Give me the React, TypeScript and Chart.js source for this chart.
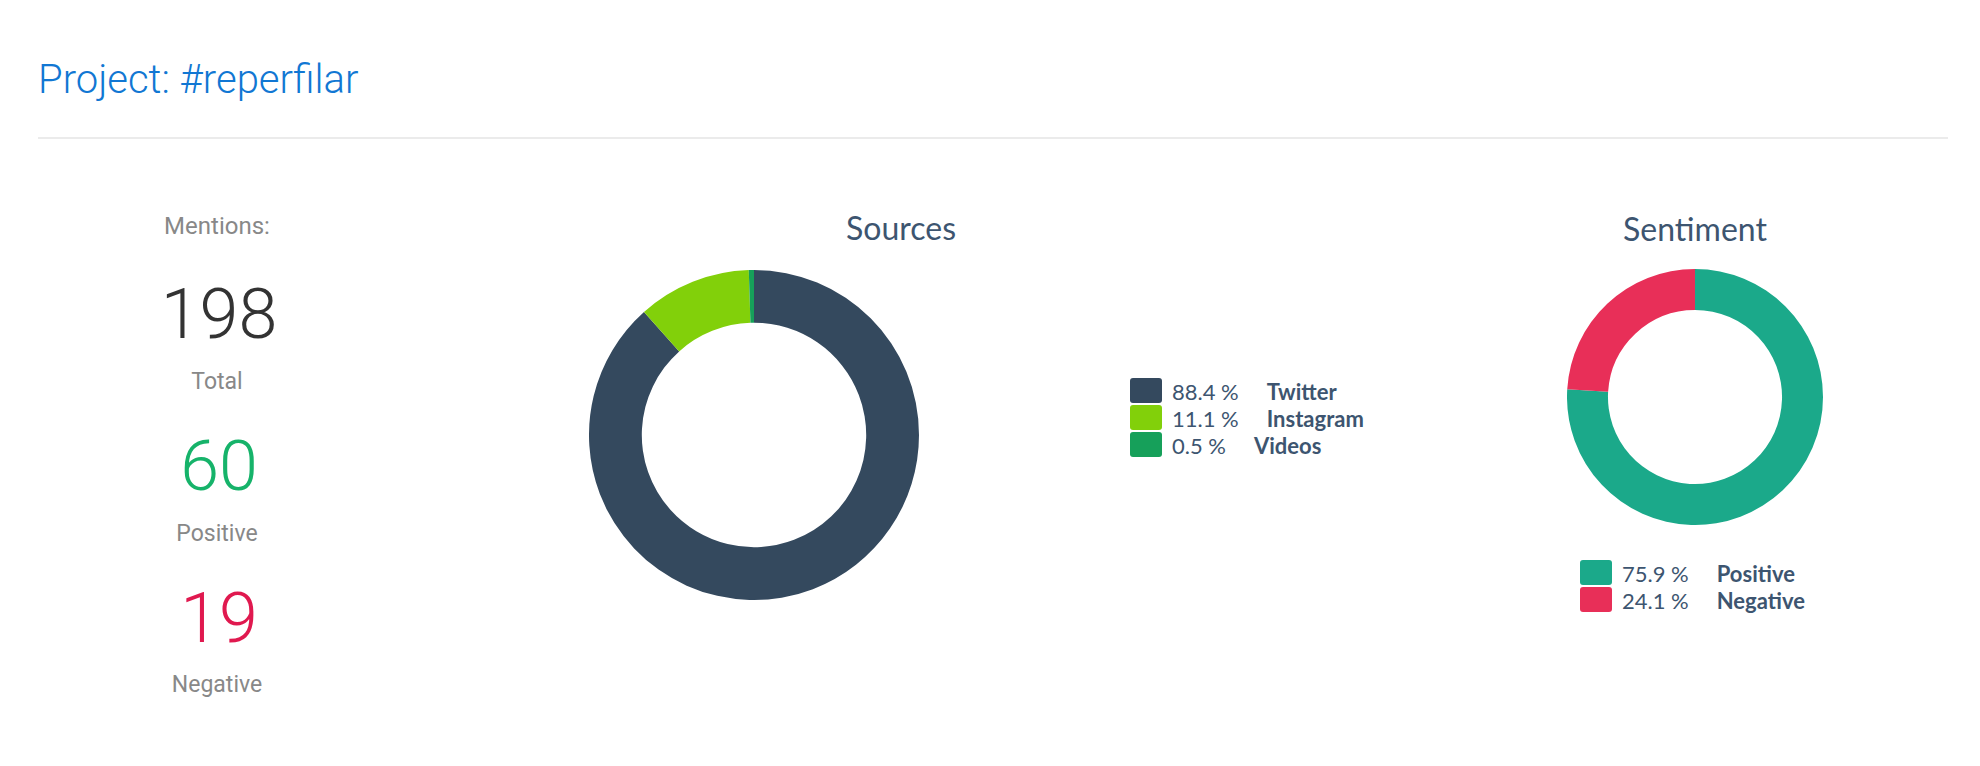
import React, { useEffect, useRef } from 'react';
import { Chart, registerables } from 'chart.js';

Chart.register(...registerables);

// ---- data ----
const projectTitle = 'Project: #reperfilar';
const mentionsLabel = 'Mentions:';
const statLabels = ['Total', 'Positive', 'Negative'];
const statValues = [198, 60, 19];

const sourceLabels = ['Twitter', 'Instagram', 'Videos'];
const sourceValues = [175, 22, 1];
const sourceColors = ['#34495e', '#82d00a', '#16a05a'];

const sentimentLabels = ['Positive', 'Negative'];
const sentimentValues = [60, 19];
const sentimentColors = ['#1ba98a', '#e82f58'];

// ---- styles ----
const statColors = ['#333333', '#16b36a', '#e0194f'];
const textBlue = '#3d5570';

type TxtProps = {
  x: number;
  baseline: number;
  size: number;
  family: string;
  weight?: number;
  color: string;
  align?: 'left' | 'center';
  k: number;
  children: React.ReactNode;
};

function Txt({ x, baseline, size, family, weight = 400, color, align = 'left', k, children }: TxtProps) {
  const top = baseline - k * size;
  const style: React.CSSProperties = {
    position: 'absolute',
    top,
    fontFamily: family,
    fontSize: size,
    fontWeight: weight,
    color,
    lineHeight: `${size}px`,
    whiteSpace: 'nowrap',
  };
  if (align === 'center') {
    style.left = x - 400;
    style.width = 800;
    style.textAlign = 'center';
  } else {
    style.left = x;
  }
  return <div style={style}>{children}</div>;
}

const ROBOTO = 'Roboto, sans-serif';
const LATO = 'Lato, sans-serif';
const KR = 0.842;
const KL = 0.887;

type DonutProps = {
  labels: string[];
  values: number[];
  colors: string[];
  size: number;
  left: number;
  top: number;
};

function Donut({ labels, values, colors, size, left, top }: DonutProps) {
  const ref = useRef<HTMLCanvasElement>(null);
  useEffect(() => {
    const chart = new Chart(ref.current as HTMLCanvasElement, {
      type: 'doughnut',
      data: {
        labels,
        datasets: [{ data: values, backgroundColor: colors, borderWidth: 0 }],
      },
      options: {
        responsive: false,
        animation: false,
        cutout: '68%',
        layout: { padding: 0 },
        plugins: { legend: { display: false }, tooltip: { enabled: false } },
      },
    });
    return () => chart.destroy();
  }, []);
  return (
    <canvas
      ref={ref}
      width={size}
      height={size}
      style={{ position: 'absolute', left, top, width: size, height: size }}
    />
  );
}

type LegendProps = {
  labels: string[];
  values: number[];
  colors: string[];
  left: number;
  top: number;
};

function Legend({ labels, values, colors, left, top }: LegendProps) {
  const total = values.reduce((a, b) => a + b, 0);
  const textStyle: React.CSSProperties = {
    fontFamily: LATO,
    fontSize: 22,
    lineHeight: '27px',
    paddingTop: 1,
    color: textBlue,
    whiteSpace: 'nowrap',
  };
  return (
    <div style={{ position: 'absolute', left, top }}>
      {labels.map((lab, i) => (
        <div key={lab} style={{ display: 'flex', alignItems: 'flex-start', height: 27 }}>
          <div
            style={{
              width: 32,
              height: 25,
              marginTop: 1,
              borderRadius: 3,
              background: colors[i],
            }}
          />
          <span style={{ ...textStyle, marginLeft: 10 }}>
            {((values[i] / total) * 100).toFixed(1)} %
          </span>
          <span style={{ ...textStyle, marginLeft: 28, fontWeight: 700 }}>{lab}</span>
        </div>
      ))}
    </div>
  );
}

export default function App() {
  const statBaselines = [338, 490, 642];
  const labelBaselines = [389, 541, 692];
  return (
    <div
      style={{
        position: 'absolute',
        left: 0,
        top: 0,
        width: 1980,
        height: 766,
        background: '#ffffff',
        overflow: 'hidden',
      }}
    >
      <Txt x={38} baseline={94} size={40} family={ROBOTO} weight={300} color="#1177d3" k={KR}>
        {projectTitle}
      </Txt>
      <div
        style={{
          position: 'absolute',
          left: 38,
          top: 137,
          width: 1910,
          height: 2,
          background: '#ebebeb',
        }}
      />

      <Txt x={217} baseline={234} size={24} family={ROBOTO} color="#888888" align="center" k={KR}>
        {mentionsLabel}
      </Txt>
      {statValues.map((v, i) => (
        <React.Fragment key={statLabels[i]}>
          <Txt
            x={219}
            baseline={statBaselines[i]}
            size={70}
            family={ROBOTO}
            weight={300}
            color={statColors[i]}
            align="center"
            k={KR}
          >
            {v}
          </Txt>
          <Txt
            x={217}
            baseline={labelBaselines[i]}
            size={23}
            family={ROBOTO}
            color="#888888"
            align="center"
            k={KR}
          >
            {statLabels[i]}
          </Txt>
        </React.Fragment>
      ))}

      <Txt x={901} baseline={240} size={32} family={LATO} color={textBlue} align="center" k={KL}>
        Sources
      </Txt>
      <Donut labels={sourceLabels} values={sourceValues} colors={sourceColors} size={330} left={589} top={270} />
      <Legend labels={sourceLabels} values={sourceValues} colors={sourceColors} left={1130} top={377} />

      <Txt x={1695} baseline={241} size={32} family={LATO} color={textBlue} align="center" k={KL}>
        Sentiment
      </Txt>
      <Donut
        labels={sentimentLabels}
        values={sentimentValues}
        colors={sentimentColors}
        size={256}
        left={1567}
        top={269}
      />
      <Legend
        labels={sentimentLabels}
        values={sentimentValues}
        colors={sentimentColors}
        left={1580}
        top={559}
      />
    </div>
  );
}
